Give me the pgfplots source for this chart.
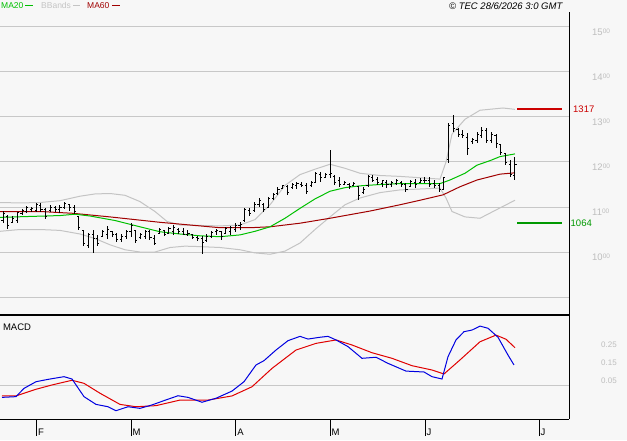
\documentclass[border=0pt]{standalone}
\usepackage{pgfplots}
\pgfplotsset{compat=1.18}
\usepackage{pgfplotstable}
\usepackage{fontspec}
\setmainfont{Liberation Sans}
\definecolor{bg}{HTML}{F7F7F7}
\definecolor{gridc}{HTML}{C8C8C8}
\definecolor{bbc}{HTML}{C4C4C4}
\definecolor{ma20}{HTML}{00C000}
\definecolor{ma60}{HTML}{A00000}
\definecolor{lblc}{HTML}{BEBEBE}
\definecolor{macdb}{HTML}{0000E0}
\definecolor{macdr}{HTML}{E00000}
\definecolor{resr}{HTML}{CC0000}
\definecolor{supg}{HTML}{009900}

\pgfplotstableread{
x o h l c
3.0 1070 1092 1065 1085
7.7 1080 1082 1052 1060
12.5 1066 1080 1064 1075
17.2 1070 1090 1064 1088
22.0 1085 1095 1082 1092
26.7 1090 1102 1086 1098
31.4 1095 1100 1090 1096
36.2 1092 1110 1088 1105
40.9 1104 1108 1090 1095
45.7 1095 1098 1073 1080
50.4 1092 1104 1090 1100
55.1 1098 1102 1088 1095
59.9 1094 1104 1086 1100
64.6 1098 1112 1096 1108
69.4 1105 1106 1092 1100
74.1 1100 1104 1085 1090
78.8 1078 1080 1050 1055
83.6 1048 1050 1013 1020
88.3 1015 1043 1010 1038
93.1 1040 1049 998 1030
97.8 1030 1038 1013 1020
102.5 1035 1049 1034 1045
107.3 1040 1058 1030 1050
112.0 1045 1046 1034 1040
116.8 1040 1042 1023 1028
121.5 1028 1040 1022 1035
126.2 1035 1049 1030 1045
131.0 1045 1064 1033 1058
135.7 1048 1050 1020 1025
140.5 1032 1042 1030 1038
145.2 1035 1048 1030 1045
149.9 1045 1049 1027 1032
154.7 1030 1038 1016 1020
159.4 1042 1053 1040 1050
164.2 1048 1050 1036 1040
168.9 1042 1055 1040 1052
173.6 1045 1060 1038 1055
178.4 1050 1053 1040 1045
183.1 1045 1053 1037 1040
187.9 1040 1048 1035 1042
192.6 1038 1040 1028 1032
197.3 1032 1036 1025 1030
202.1 1030 1035 996 1022
206.8 1025 1040 1022 1035
211.6 1035 1047 1032 1044
216.3 1045 1052 1038 1048
221.0 1045 1046 1027 1035
225.8 1042 1055 1040 1052
230.5 1045 1058 1038 1055
235.3 1050 1064 1045 1060
240.0 1058 1067 1050 1062
244.7 1070 1098 1067 1095
249.5 1092 1097 1080 1085
254.2 1092 1112 1090 1105
259.0 1105 1119 1101 1115
263.7 1105 1110 1090 1095
268.4 1100 1123 1097 1118
273.2 1120 1131 1116 1128
277.9 1130 1145 1127 1140
282.7 1142 1149 1139 1147
287.4 1145 1149 1127 1132
292.1 1143 1153 1141 1150
296.9 1148 1156 1141 1152
301.6 1150 1156 1145 1148
306.4 1148 1153 1129 1135
311.1 1148 1158 1145 1155
315.8 1155 1178 1153 1175
320.6 1172 1178 1156 1165
325.3 1166 1175 1164 1172
330.1 1172 1227 1164 1175
334.8 1168 1171 1149 1155
339.5 1158 1167 1145 1150
344.3 1150 1158 1149 1155
349.0 1150 1153 1141 1145
353.8 1148 1156 1147 1152
358.5 1145 1145 1116 1125
363.2 1132 1145 1130 1140
368.0 1148 1171 1145 1168
372.7 1165 1171 1156 1160
377.5 1162 1167 1149 1155
382.2 1152 1160 1145 1158
386.9 1155 1160 1142 1150
391.7 1150 1158 1145 1155
396.4 1152 1162 1149 1158
401.2 1155 1158 1145 1150
405.9 1150 1153 1134 1140
410.6 1145 1160 1145 1156
415.4 1155 1162 1142 1150
420.1 1155 1164 1153 1160
424.9 1160 1166 1153 1158
429.6 1158 1166 1145 1150
434.3 1152 1160 1142 1148
439.1 1148 1153 1134 1140
443.8 1140 1167 1138 1165
448.6 1205 1286 1198 1280
453.3 1285 1304 1267 1275
458.0 1272 1275 1256 1260
462.8 1262 1271 1253 1258
467.5 1255 1264 1216 1230
472.3 1245 1253 1240 1250
477.0 1248 1267 1242 1262
481.7 1258 1278 1253 1270
486.5 1270 1275 1242 1248
491.2 1248 1267 1242 1262
496.0 1258 1262 1231 1240
500.7 1238 1240 1216 1222
505.4 1218 1220 1193 1198
510.2 1195 1204 1167 1172
514.9 1170 1212 1160 1195
}\bars

\pgfplotstableread{
x y
0 1077
30 1079
60 1081
75 1084
90 1080
115 1070
140 1056
160 1045
180 1040
200 1036
220 1034
240 1038
255 1046
270 1056
285 1075
300 1097
315 1118
330 1135
345 1143
360 1147
380 1150
400 1152
440 1152
450 1160
465 1175
477 1193
490 1203
500 1212
515 1218
}\maA

\pgfplotstableread{
x y
0 1090
40 1090
73 1086
110 1078
160 1066
200 1058
220 1054
250 1054
270 1056
300 1064
330 1075
370 1091
400 1105
420 1115
443 1127
460 1145
477 1160
500 1173
515 1176
}\maB

\pgfplotstableread{
x y
0 1110
20 1109
40 1110
60 1114
80 1124
95 1129
110 1130
125 1126
140 1112
155 1090
167 1068
180 1060
200 1059
220 1058
240 1060
255 1072
270 1105
285 1148
300 1172
315 1184
330 1195
345 1186
360 1175
380 1170
400 1168
420 1165
440 1162
446 1200
452 1262
465 1295
480 1315
503 1320
515 1317
}\bbU

\pgfplotstableread{
x y
0 1046
20 1050
40 1050
60 1048
80 1040
95 1030
110 1016
125 1005
140 1000
155 1000
170 1010
185 1013
200 1012
220 1010
240 1005
255 998
270 995
285 1002
300 1020
315 1050
330 1078
345 1105
360 1120
380 1132
400 1138
420 1140
440 1142
446 1120
452 1090
465 1078
480 1075
500 1098
515 1115
}\bbL

\pgfplotstableread{
x y
2 -0.067
16 -0.063
24 -0.017
36 0.020
48 0.033
64 0.048
72 0.035
84 -0.063
96 -0.106
108 -0.119
116 -0.141
128 -0.119
140 -0.128
152 -0.109
164 -0.085
178 -0.058
188 -0.067
202 -0.094
216 -0.072
232 -0.032
244 0.020
256 0.113
264 0.137
276 0.196
288 0.248
300 0.272
308 0.257
320 0.267
328 0.272
336 0.252
348 0.215
362 0.150
376 0.156
388 0.122
406 0.079
424 0.074
432 0.048
442 0.035
448 0.159
456 0.252
464 0.298
472 0.307
480 0.329
488 0.317
498 0.267
508 0.168
514 0.113
}\macd

\pgfplotstableread{
x y
2 -0.058
16 -0.059
36 -0.022
52 0.002
72 0.028
84 0.011
100 -0.044
120 -0.106
136 -0.119
156 -0.113
180 -0.082
208 -0.082
232 -0.059
252 -0.008
272 0.094
296 0.196
316 0.233
336 0.252
352 0.224
372 0.181
392 0.150
412 0.109
432 0.085
444 0.063
460 0.141
480 0.242
496 0.279
506 0.256
515 0.209
}\signal

\newcommand{\plab}[1]{#1\raisebox{1.8pt}{\fontsize{6.5}{6.5}\selectfont 00}}

\begin{document}
\begin{tikzpicture}
\useasboundingbox (0pt,0pt) rectangle (627pt,-440pt);
\fill[bg] (0pt,0pt) rectangle (627pt,-440pt);
% legend
\node[anchor=west, inner sep=0pt, text=ma20, font=\fontsize{8.5}{8.5}\selectfont] at (1pt,-5.5pt) {MA20};
\draw[ma20, line width=1pt] (25pt,-5.5pt) -- (33pt,-5.5pt);
\node[anchor=west, inner sep=0pt, text=bbc, font=\fontsize{8.5}{8.5}\selectfont] at (41pt,-5.5pt) {BBands};
\draw[bbc, line width=1pt] (73pt,-5.5pt) -- (80pt,-5.5pt);
\node[anchor=west, inner sep=0pt, text=ma60, font=\fontsize{8.5}{8.5}\selectfont] at (87pt,-5.5pt) {MA60};
\draw[ma60, line width=1pt] (112pt,-5.5pt) -- (120pt,-5.5pt);
\node[anchor=west, inner sep=0pt, font=\itshape\fontsize{9.5}{9.5}\selectfont] at (449pt,-6pt) {© TEC 28/6/2026 3:0 GMT};

\begin{axis}[
  name=main, at={(0pt,-12pt)}, anchor=north west,
  scale only axis, width=569pt, height=303pt,
  xmin=0, xmax=569, ymin=860, ymax=1533.3,
  axis line style={draw=none},
  xtick=\empty,
  ytick={1000,1100,1200,1300,1400,1500},
  yticklabels={\plab{10},\plab{11},\plab{12},\plab{13},\plab{14},\plab{15}},
  ymajorgrids, grid style={gridc, line width=1pt},
  major tick length=0pt,
  yticklabel pos=right,
  yticklabel style={anchor=west, inner sep=0pt, xshift=23pt, yshift=-5pt, text=lblc, font=\fontsize{9.5}{9.5}\selectfont},
  clip=false,
]
\addplot[gridc, line width=1pt, forget plot] coordinates {(0,900) (569,900)};
\addplot[bbc, line width=1pt, forget plot] table[x=x, y=y] {\bbU};
\addplot[bbc, line width=1pt, forget plot] table[x=x, y=y] {\bbL};
\addplot[ma60, line width=1pt, forget plot] table[x=x, y=y] {\maB};
\addplot[ma20, line width=1pt, forget plot] table[x=x, y=y] {\maA};
\addplot[draw=none, mark=none, forget plot, error bars/.cd, y dir=both, y explicit, error mark=none, error bar style={draw=black, line width=1pt}]
  table[x=x, y expr={(\thisrow{h}+\thisrow{l})/2}, y error expr={(\thisrow{h}-\thisrow{l})/2}] {\bars};
\addplot[draw=none, mark=none, forget plot, error bars/.cd, x dir=minus, x fixed=1.6, error mark=none, error bar style={draw=black, line width=1pt}]
  table[x=x, y=o] {\bars};
\addplot[draw=none, mark=none, forget plot, error bars/.cd, x dir=plus, x fixed=1.6, error mark=none, error bar style={draw=black, line width=1pt}]
  table[x=x, y=c] {\bars};
\addplot[resr, line width=2pt, forget plot] coordinates {(517,1317) (562,1317)};
\addplot[supg, line width=2pt, forget plot] coordinates {(517,1064) (562,1064)};
\node[anchor=west, inner sep=0pt, text=resr, font=\fontsize{9.5}{9.5}\selectfont] at (axis cs:573,1317) {1317};
\node[anchor=west, inner sep=0pt, text=supg, font=\fontsize{9.5}{9.5}\selectfont] at (axis cs:570.5,1064) {1064};
\draw[black, line width=1pt] (rel axis cs:1,0) -- (rel axis cs:1,1);
\draw[black, line width=2.5pt] (rel axis cs:0,0) -- (rel axis cs:1,0);
\end{axis}

\begin{axis}[
  name=macdax, at={(0pt,-315pt)}, anchor=north west,
  scale only axis, width=569pt, height=104pt,
  xmin=0, xmax=569, ymin=-0.1872, ymax=0.3906,
  axis line style={draw=none},
  xtick={36.4,131,235.6,330,425,539},
  xticklabels={F,M,A,M,J,J},
  xtick pos=bottom,
  tick align=outside,
  x tick style={black, line width=1pt},
  major tick length=17pt,
  xticklabel style={anchor=south west, inner sep=0pt, xshift=1.5pt, font=\fontsize{9.5}{9.5}\selectfont},
  ytick={0.05,0.15,0.25},
  yticklabels={0.05,0.15,0.25},
  y tick style={draw=none},
  yticklabel pos=right,
  yticklabel style={anchor=west, inner sep=0pt, xshift=15pt, yshift=-4.5pt, text=lblc, font=\fontsize{8}{8}\selectfont},
  clip=false,
]
\addplot[gridc, line width=1pt, forget plot] coordinates {(0,0) (569,0)};
\addplot[macdr, line width=1pt, forget plot] table[x=x, y=y] {\signal};
\addplot[macdb, line width=1pt, forget plot] table[x=x, y=y] {\macd};
\node[anchor=west, inner sep=0pt, font=\fontsize{9.5}{9.5}\selectfont] at (rel axis cs:0.005,0.88) {MACD};
\draw[black, line width=1pt] (rel axis cs:1,0) -- (rel axis cs:1,1);
\draw[black, line width=1pt] (rel axis cs:0,0) -- (rel axis cs:1,0);
\end{axis}
\end{tikzpicture}
\end{document}
